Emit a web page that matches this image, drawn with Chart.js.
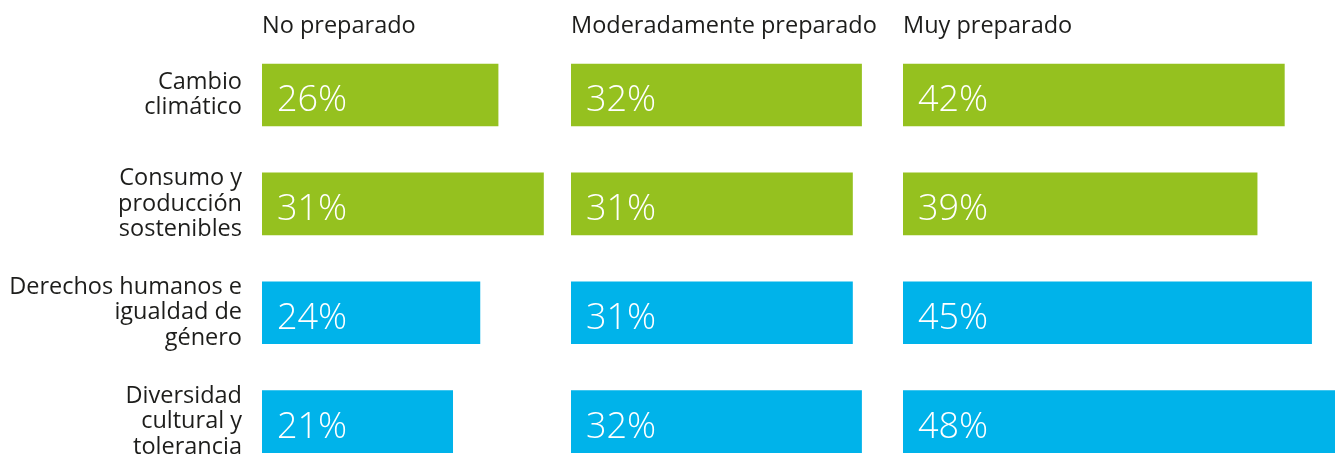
<!DOCTYPE html>
<html>
<head>
<meta charset="utf-8">
<script src="https://cdn.jsdelivr.net/npm/chart.js@4"></script>
<style>
  html, body { margin: 0; padding: 0; background: #fff; overflow: hidden; }
  #wrap { position: relative; width: 1335px; height: 458px; overflow: hidden; }
  .panel { position: absolute; top: 0; }
</style>
</head>
<body>
<div id="wrap">
  <div class="panel" style="left:0px"><canvas id="c0" width="716" height="476"></canvas></div>
  <div class="panel" style="left:571px"><canvas id="c1" width="454" height="476"></canvas></div>
  <div class="panel" style="left:903px"><canvas id="c2" width="454" height="476"></canvas></div>
</div>
<script>
const categories = [
    ["Cambio", "climático"],
    ["Consumo y", "producción", "sostenibles"],
    ["Derechos humanos e", "igualdad de", "género"],
    ["Diversidad", "cultural y", "tolerancia"]
];
const panelTitles = ["No preparado", "Moderadamente preparado", "Muy preparado"];
const noPreparado = [26, 31, 24, 21];
const moderadamente = [32, 31, 31, 32];
const muyPreparado = [42, 39, 45, 48];

const GREEN = "#95c11f";
const BLUE = "#00b3ea";
const rowColors = [GREEN, GREEN, BLUE, BLUE];
const TEXT = "#1d1d1b";

// draws the panel title above the plot and the white % label inside each bar
const panelText = {
    id: "panelText",
    afterDatasetsDraw(chart, args, opts) {
        const ctx = chart.ctx;
        ctx.save();
        ctx.fillStyle = TEXT;
        ctx.font = '23.5px "Open Sans"';
        ctx.textAlign = "left";
        ctx.textBaseline = "alphabetic";
        ctx.fillText(opts.title, chart.chartArea.left, 33);

        ctx.fillStyle = "#ffffff";
        ctx.font = '300 36px "Open Sans"';
        const meta = chart.getDatasetMeta(0);
        meta.data.forEach((bar, i) => {
            const v = chart.data.datasets[0].data[i];
            ctx.fillText(v + "%", bar.base + 15, bar.y + 16);
        });
        ctx.restore();
    }
};

function makePanel(id, title, values, showLabels) {
    const ctx = document.getElementById(id).getContext("2d");
    return new Chart(ctx, {
        type: "bar",
        data: {
            labels: categories,
            datasets: [{
                data: values,
                backgroundColor: rowColors,
                borderWidth: 0,
                barThickness: 62
            }]
        },
        options: {
            indexAxis: "y",
            responsive: false,
            animation: false,
            layout: { padding: { top: 40.6, left: 0, right: 0, bottom: 0 } },
            plugins: {
                legend: { display: false },
                tooltip: { enabled: false },
                panelText: { title: title }
            },
            scales: {
                x: {
                    display: false,
                    min: 0,
                    max: 50
                },
                y: {
                    display: showLabels,
                    grid: { display: false, drawTicks: false },
                    border: { display: false },
                    ticks: {
                        padding: 20,
                        color: TEXT,
                        font: { family: '"Open Sans"', size: 23.5, lineHeight: "25.5px" }
                    },
                    afterFit(scale) {
                        // keep the label column fixed and stop it from shrinking the plot height
                        scale.width = showLabels ? 262 : 0;
                        scale.paddingTop = 0;
                        scale.paddingBottom = 0;
                    }
                }
            }
        },
        plugins: [panelText]
    });
}

makePanel("c0", panelTitles[0], noPreparado, true);
makePanel("c1", panelTitles[1], moderadamente, false);
makePanel("c2", panelTitles[2], muyPreparado, false);
</script>
</body>
</html>
